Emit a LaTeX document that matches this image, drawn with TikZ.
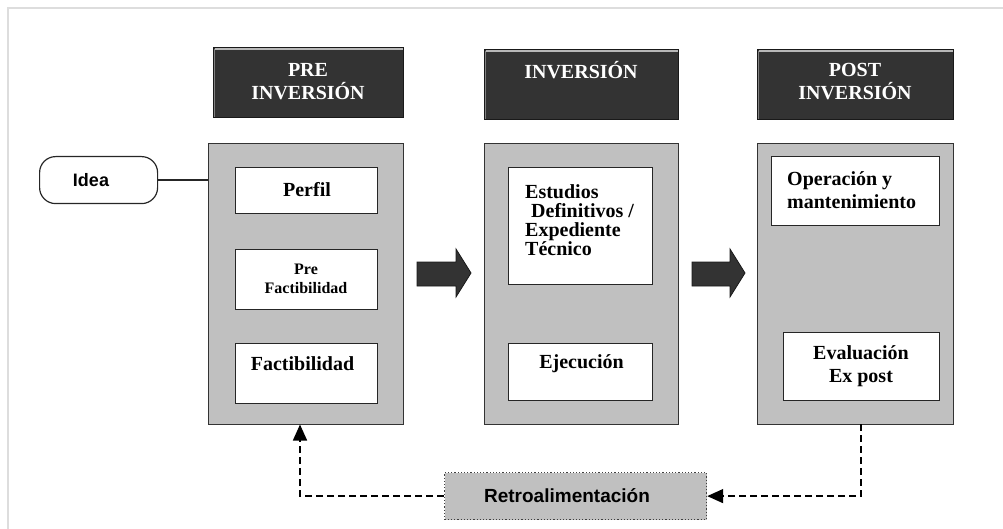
\documentclass[tikz,border=0pt]{standalone}
\usepackage{fontspec}
\setmainfont{Liberation Serif}
\newfontfamily\arialf{Liberation Sans}
\usetikzlibrary{arrows.meta,calc}
\definecolor{panelgray}{HTML}{C0C0C0}
\definecolor{hdrdark}{HTML}{333333}
\definecolor{framegray}{HTML}{DDDDDD}
\definecolor{hilite}{HTML}{B8B8B8}
\tikzset{
  panel/.style={draw=black!80, line width=1.3pt, fill=panelgray, anchor=north west, inner sep=0pt},
  whitebox/.style={draw=black!85, line width=1.3pt, fill=white, anchor=north west, inner sep=0pt},
  hdr/.style={draw=black!90, line width=1.2pt, fill=hdrdark, anchor=north west, inner sep=0pt},
  hdrtxt/.style={text=white, font=\bfseries\fontsize{20}{23}\selectfont, align=center, inner sep=0pt},
  boxtxt/.style={text=black, font=\bfseries\fontsize{20}{23}\selectfont, inner sep=0pt},
  blockarrow/.style={fill=hdrdark, draw=black!90, line width=0.8pt},
  fbline/.style={dash pattern=on 7pt off 4pt, line width=1.5pt, black},
  fbtip/.style={-{Triangle[length=16pt,width=14pt]}}
}
\begin{document}
\begin{tikzpicture}[x=1pt,y=-1pt]
\useasboundingbox (0,0) rectangle (1003,529);
% outer frame
\draw[framegray, line width=2pt] (8,529) -- (8,8) -- (1003,8);

% headers
\node[hdr, minimum width=190pt, minimum height=70pt] (h1) at (213,47) {};
\node[hdr, minimum width=194pt, minimum height=70pt] (h2) at (484,49) {};
\node[hdr, minimum width=196pt, minimum height=70pt] (h3) at (757,49) {};
\foreach \h in {h1,h2,h3}{
  \draw[hilite, line width=1.5pt] ($(\h.north west)+(1.5,2.2)$) -- ($(\h.north east)+(-1.5,2.2)$);
  \draw[hilite!70!black, line width=1pt] ($(\h.north west)+(1.6,2.5)$) -- ($(\h.south west)+(1.6,-1.5)$);
}
\node[hdrtxt] (h1t) at (308,81.5) {PRE\\INVERSIÓN};
\node[hdrtxt] (h2t) at (581,70) {INVERSIÓN};
\node[hdrtxt] (h3t) at (855,81.5) {POST\\INVERSIÓN};

% panels
\node[panel, minimum width=195pt, minimum height=281pt] (p1) at (208,143) {};
\node[panel, minimum width=194pt, minimum height=281pt] (p2) at (484,143) {};
\node[panel, minimum width=196pt, minimum height=281pt] (p3) at (757,143) {};

% boxes panel 1
\node[whitebox, minimum width=142pt, minimum height=46pt] (perfil) at (235,167) {};
\node[whitebox, minimum width=142pt, minimum height=60pt] (prefact) at (235,249) {};
\node[whitebox, minimum width=142pt, minimum height=60pt] (fact) at (235,343) {};
\node[boxtxt] (perfilt) at (307,190) {Perfil};
\node[boxtxt, font=\bfseries\fontsize{16}{19}\selectfont, align=center] (prefactt) at (306,279) {Pre\\Factibilidad};
\node[boxtxt] (factt) at (302.5,364) {Factibilidad};

% boxes panel 2
\node[whitebox, minimum width=144pt, minimum height=117pt] (estud) at (508,167) {};
\node[whitebox, minimum width=144pt, minimum height=57pt] (ejec) at (508,343) {};
\node[boxtxt, font=\bfseries\fontsize{20}{19}\selectfont, align=left, anchor=north west] (estudt) at (525,184) {Estudios\\\hspace{6pt}Definitivos /\\Expediente\\Técnico};
\node[boxtxt] (eject) at (581.5,364) {Ejecución};

% boxes panel 3
\node[whitebox, minimum width=168pt, minimum height=69pt] (oper) at (771,156) {};
\node[whitebox, minimum width=156pt, minimum height=68pt] (evalx) at (783,332) {};
\node[boxtxt, align=left, anchor=north west] (opert) at (787,171) {Operación y\\mantenimiento};
\node[boxtxt, align=center] (evalt) at (861,366) {Evaluación\\Ex post};

% idea
\node[draw=black!85, line width=1.2pt, fill=white, rounded corners=16pt, minimum width=118pt, minimum height=47pt, inner sep=0pt, anchor=north west] (idea) at (39,156) {};
\node[font=\arialf\bfseries\fontsize{18}{20}\selectfont, inner sep=0pt] (ideat) at (91,180) {Idea};
\coordinate (p1in) at (208,180);
\draw[line width=1.2pt, black!85] (idea.east |- p1in) -- (p1in);

% block arrows
\path[blockarrow] (417,262) -- (456,262) -- (456,249) -- (471,273) -- (456,297) -- (456,286) -- (417,286) -- cycle;
\path[blockarrow] (692,262) -- (730,262) -- (730,249) -- (745,273) -- (730,297) -- (730,286) -- (692,286) -- cycle;

% feedback
\node[draw=black!75, dotted, line width=1.2pt, fill=panelgray, minimum width=262pt, minimum height=47pt, inner sep=0pt, anchor=north west] (retro) at (444,472) {};
\node[font=\arialf\bfseries\fontsize{19}{20}\selectfont, inner sep=0pt] (retrot) at (567,495.5) {Retroalimentación};
\coordinate (fbstart) at (861,424);
\coordinate (fbend) at (300,424.5);
\draw[fbline, fbtip] (fbstart) |- (retro.east);
\draw[fbline, fbtip] (retro.west) -| (fbend);
\end{tikzpicture}
\end{document}
